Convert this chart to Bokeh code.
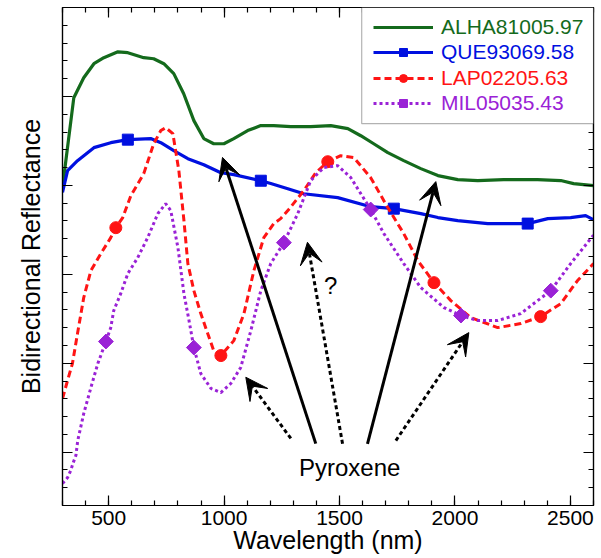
import math
from bokeh.plotting import figure
from bokeh.models import (Range1d, SingleIntervalTicker, LinearAxis, Legend, LegendItem,
                          Arrow, VeeHead, Label, BoxAnnotation, ColumnDataSource)
from bokeh.embed import file_html
from bokeh.resources import INLINE

# ---- data (wavelength nm, reflectance) ----
alha_wl = [300, 349, 392, 436, 479, 540, 583, 652, 695, 739, 782, 825, 869, 912, 955, 999,
           1042, 1102, 1159, 1215, 1289, 1375, 1462, 1536, 1592, 1648, 1709, 1778, 1852, 1926,
           2012, 2099, 2211, 2358, 2458, 2514, 2600]
alha_r = [0.1989, 0.2493, 0.2605, 0.2684, 0.2718, 0.2751, 0.2746, 0.2718, 0.2712, 0.2684,
          0.2628, 0.2515, 0.2364, 0.2263, 0.2234, 0.2234, 0.2263, 0.2308, 0.2336, 0.2336,
          0.2330, 0.2330, 0.2336, 0.2319, 0.2279, 0.2234, 0.2184, 0.2139, 0.2094, 0.2055,
          0.2032, 0.2027, 0.2032, 0.2032, 0.2027, 0.2010, 0.1998]

que_wl = [300, 322, 365, 436, 509, 583, 682, 726, 782, 843, 912, 986, 1042, 1159, 1202, 1276,
          1345, 1492, 1635, 1735, 1852, 1926, 2012, 2142, 2315, 2402, 2501, 2566, 2600]
que_r = [0.1961, 0.2083, 0.2139, 0.2212, 0.2240, 0.2257, 0.2263, 0.2240, 0.2195, 0.2150,
         0.2116, 0.2071, 0.2060, 0.2026, 0.2010, 0.1981, 0.1953, 0.1931, 0.1880, 0.1869,
         0.1841, 0.1819, 0.1802, 0.1785, 0.1785, 0.1813, 0.1819, 0.1830, 0.1807]
que_mk_wl = [583, 1159, 1735, 2315]
que_mk_r = [0.2257, 0.2026, 0.1869, 0.1785]

lap_wl = [300, 322, 343, 365, 392, 423, 466, 509, 531, 561, 596, 652, 695, 726, 747, 778,
          804, 826, 843, 869, 899, 929, 955, 986, 1042, 1086, 1129, 1172, 1215, 1245, 1276,
          1345, 1397, 1449, 1505, 1562, 1635, 1709, 1778, 1839, 1909, 1982, 2068, 2185, 2285,
          2371, 2458, 2531, 2600]
lap_r = [0.0801, 0.0903, 0.0998, 0.1167, 0.1369, 0.1521, 0.1616, 0.1706, 0.1762, 0.1819,
         0.1942, 0.2066, 0.2234, 0.2308, 0.2324, 0.2291, 0.2083, 0.1802, 0.1560, 0.1408,
         0.1279, 0.1167, 0.1071, 0.1043, 0.1127, 0.1279, 0.1521, 0.1706, 0.1785, 0.1813,
         0.1858, 0.1970, 0.2071, 0.2133, 0.2167, 0.2156, 0.2043, 0.1875, 0.1729, 0.1577,
         0.1453, 0.1352, 0.1257, 0.1200, 0.1223, 0.1262, 0.1335, 0.1465, 0.1560]
lap_mk_wl = [531, 986, 1449, 1909, 2371]
lap_mk_r = [0.1762, 0.1043, 0.2133, 0.1453, 0.1262]

mil_wl = [300, 322, 336, 345, 358, 366, 392, 423, 453, 488, 509, 522, 552, 583, 626, 669,
          713, 747, 769, 800, 826, 848, 869, 899, 943, 986, 1029, 1072, 1116, 1159, 1202,
          1259, 1319, 1375, 1432, 1492, 1549, 1635, 1692, 1778, 1852, 1952, 2026, 2099, 2185,
          2285, 2358, 2415, 2501, 2600]
mil_r = [0.0324, 0.0357, 0.0397, 0.0436, 0.0481, 0.0565, 0.0717, 0.0863, 0.0998, 0.1122,
         0.1200, 0.1296, 0.1391, 0.1504, 0.1594, 0.1706, 0.1841, 0.1897, 0.1858, 0.1650,
         0.1391, 0.1240, 0.1088, 0.0942, 0.0858, 0.0835, 0.0886, 0.0976, 0.1184, 0.1408,
         0.1560, 0.1678, 0.1841, 0.2027, 0.2100, 0.2111, 0.2043, 0.1864, 0.1729, 0.1560,
         0.1425, 0.1313, 0.1268, 0.1240, 0.1240, 0.1279, 0.1352, 0.1408, 0.1560, 0.1720]
mil_mk_wl = [488, 869, 1259, 1635, 2026, 2415]
mil_mk_r = [0.1122, 0.1088, 0.1678, 0.1864, 0.1268, 0.1408]

# annotation arrows (tail -> head), in data coordinates
solid_x0 = [1397, 1621]
solid_y0 = [0.0548, 0.0547]
solid_x1 = [993, 1917]
solid_y1 = [0.2157, 0.2021]
dash_x0 = [1289, 1513, 1744]
dash_y0 = [0.0577, 0.0547, 0.0565]
dash_x1 = [1094, 1361, 2060]
dash_y1 = [0.0921, 0.1680, 0.1172]

FONT = "Liberation Sans"
GREEN = "#146a1c"
BLUE = "#0010e0"
RED = "#ff1414"
PURPLE = "#9a22d6"

p = figure(width=598, height=558, output_backend="svg", toolbar_location=None,
           x_range=Range1d(300, 2600), y_range=Range1d(0.02, 0.30),
           min_border_left=62, min_border_right=5, min_border_top=7, min_border_bottom=53)
p.xgrid.visible = False
p.ygrid.visible = False
p.outline_line_color = "black"
p.outline_line_width = 1.2
p.background_fill_color = "white"

xt = SingleIntervalTicker(interval=500, num_minor_ticks=5)
yt = SingleIntervalTicker(interval=0.05, num_minor_ticks=5)


def style_axis(ax, labels=True):
    ax.axis_line_color = "black"
    ax.axis_line_width = 1.2
    ax.major_tick_in = 10
    ax.major_tick_out = 0
    ax.minor_tick_in = 5
    ax.minor_tick_out = 0
    ax.major_tick_line_color = "black"
    ax.minor_tick_line_color = "black"
    ax.major_tick_line_width = 1.2
    ax.minor_tick_line_width = 1.2
    if not labels:
        ax.major_label_text_font_size = "0px"
        ax.major_label_text_color = None
        ax.major_label_standoff = 0


xa = p.xaxis[0]
xa.ticker = xt
style_axis(xa)
xa.major_label_text_font = FONT
xa.major_label_text_font_size = "21px"
xa.major_label_text_color = "black"
xa.major_label_standoff = 5
xa.axis_label = "Wavelength (nm)"
xa.axis_label_text_font = FONT
xa.axis_label_text_font_size = "25px"
xa.axis_label_text_font_style = "normal"
xa.axis_label_text_color = "black"
xa.axis_label_standoff = -2

ya = p.yaxis[0]
ya.ticker = yt
style_axis(ya, labels=False)
ya.axis_label = "Bidirectional Reflectance"
ya.axis_label_text_font = FONT
ya.axis_label_text_font_size = "25px"
ya.axis_label_text_font_style = "normal"
ya.axis_label_text_color = "black"
ya.axis_label_standoff = 18

top_ax = LinearAxis(ticker=SingleIntervalTicker(interval=500, num_minor_ticks=5))
style_axis(top_ax, labels=False)
p.add_layout(top_ax, "above")
right_ax = LinearAxis(ticker=SingleIntervalTicker(interval=0.05, num_minor_ticks=5))
style_axis(right_ax, labels=False)
p.add_layout(right_ax, "right")

# spectra
g_line = p.line(alha_wl, alha_r, line_color=GREEN, line_width=3.2)

b_line = p.line(que_wl, que_r, line_color=BLUE, line_width=3.2)
b_mk = p.scatter(que_mk_wl, que_mk_r, marker="square", size=11, fill_color=BLUE, line_color=BLUE)

r_line = p.line(lap_wl, lap_r, line_color=RED, line_width=3, line_dash="7 4")
r_mk = p.scatter(lap_mk_wl, lap_mk_r, marker="circle", size=12, fill_color=RED, line_color=RED)

m_line = p.line(mil_wl, mil_r, line_color=PURPLE, line_width=3, line_dash="3 3")
m_mk = p.scatter(mil_mk_wl, mil_mk_r, marker="square", angle=math.pi / 4, size=10.5,
                 fill_color=PURPLE, line_color=PURPLE)

# arrows
solid_src = ColumnDataSource(dict(x0=solid_x0, y0=solid_y0, x1=solid_x1, y1=solid_y1))
dash_src = ColumnDataSource(dict(x0=dash_x0, y0=dash_y0, x1=dash_x1, y1=dash_y1))
p.add_layout(Arrow(source=solid_src, x_start="x0", y_start="y0", x_end="x1", y_end="y1",
                   line_width=3, line_color="black",
                   end=VeeHead(size=22, fill_color="black", line_color="black", line_width=1)))
p.add_layout(Arrow(source=dash_src, x_start="x0", y_start="y0", x_end="x1", y_end="y1",
                   line_width=3, line_color="black", line_dash="4 3",
                   end=VeeHead(size=22, fill_color="black", line_color="black", line_width=1)))

p.add_layout(Label(x=1462, y=0.1436, text="?", text_font=FONT, text_font_size="24px",
                   text_align="center", text_baseline="middle", text_color="black"))
p.add_layout(Label(x=1544, y=0.0414, text="Pyroxene", text_font=FONT, text_font_size="24px",
                   text_align="center", text_baseline="middle", text_color="black"))

# legend box
p.add_layout(BoxAnnotation(left=1596, right=2600, bottom=0.2347, top=0.30,
                           fill_color="white", fill_alpha=1.0,
                           line_color="black", line_width=1.2, level="annotation"))

entries = [("ALHA81005.97", [g_line], GREEN, 466),
           ("QUE93069.58", [b_line, b_mk], BLUE, 441),
           ("LAP02205.63", [r_line, r_mk], RED, 415),
           ("MIL05035.43", [m_line, m_mk], PURPLE, 390)]
for lbl, rends, col, vy in entries:
    lg = Legend(items=[LegendItem(label=lbl, renderers=rends)], location=(311, vy),
                glyph_width=60, glyph_height=20, label_height=20, label_standoff=8,
                label_text_font=FONT, label_text_font_size="21px", label_text_color=col,
                border_line_alpha=0, background_fill_alpha=0, padding=0, margin=0, spacing=0)
    p.add_layout(lg, "center")

open("out.html", "w").write(file_html(p, INLINE))
